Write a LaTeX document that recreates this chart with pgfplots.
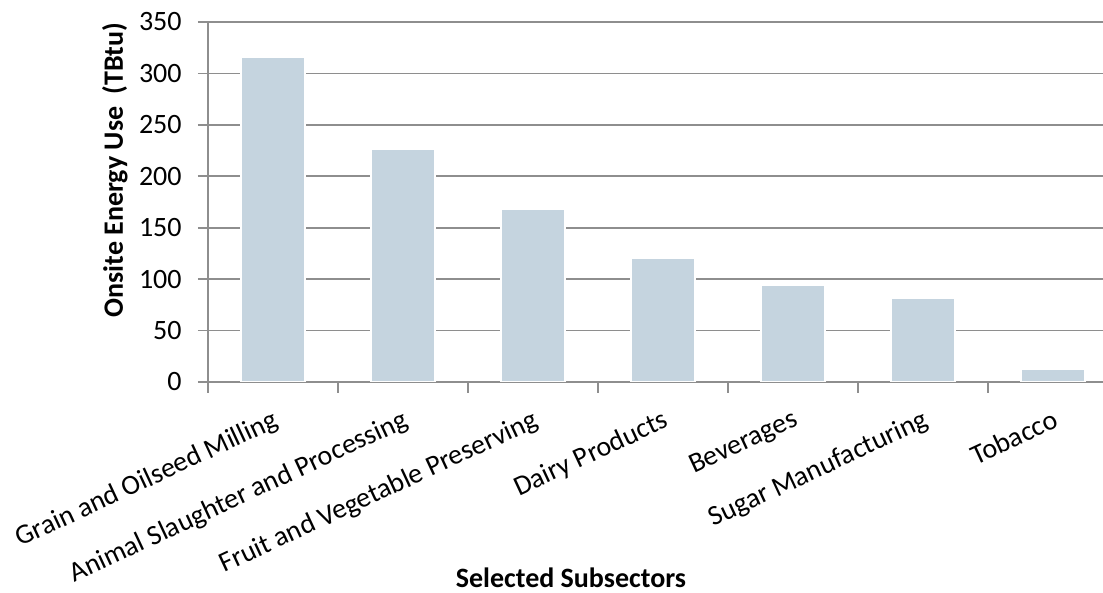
\documentclass[border=0pt]{standalone}
\usepackage{fontspec}
\setmainfont{Carlito}
\usepackage{pgfplots}
\pgfplotsset{compat=1.18}
\definecolor{barc}{HTML}{C5D4DF}
\definecolor{gridc}{HTML}{8E8E8E}
\newcommand\f{\fontsize{14}{17}\selectfont}
\begin{document}
\begin{tikzpicture}
\begin{axis}[
  scale only axis,
  width=447.5pt, height=180pt,
  at={(0,0)}, anchor=south west,
  xmin=-0.5, xmax=6.385,
  ymin=0, ymax=350,
  ytick={0,50,...,350},
  xtick={0,...,6},
  xticklabels={Grain and Oilseed Milling,Animal Slaughter and Processing,Fruit and Vegetable Preserving,Dairy Products,Beverages,Sugar Manufacturing,Tobacco},
  minor xtick={-0.5,0.5,...,5.5},
  major x tick style={draw=none},
  minor x tick style={gridc, line width=0.9pt},
  major y tick style={gridc, line width=0.9pt},
  tick align=outside,
  major tick length=5pt,
  minor tick length=5.5pt,
  axis x line*=bottom, axis y line*=left,
  axis line style={-, gridc, line width=1pt},
  ymajorgrids,
  grid style={gridc, line width=0.9pt},
  /pgf/number format/assume math mode=true,
  tick label style={font=\f, text=black},
  yticklabel style={anchor=east, inner sep=0pt, xshift=-8pt},
  xticklabel style={rotate=25, anchor=north east, inner sep=0pt, yshift=-7pt, xshift=-4pt},
  ylabel={Onsite Energy Use\ \ (TBtu)},
  ylabel style={font=\bfseries\f, at={(axis description cs:-0.104,0.589)}, anchor=center},
  xlabel={Selected Subsectors},
  xlabel style={font=\bfseries\f, at={(axis description cs:0.4056,-0.545)}, anchor=center},
  ybar, bar width=32pt,
]
\addplot[fill=barc, draw=white, line width=0.6pt] coordinates {
  (0,316) (1,226) (2,168) (3,120) (4,94) (5,81) (6,12)
};
\end{axis}
\pgfresetboundingbox
\useasboundingbox (-104pt,-105.5pt) rectangle (447.5pt,191pt);
\end{tikzpicture}
\end{document}
